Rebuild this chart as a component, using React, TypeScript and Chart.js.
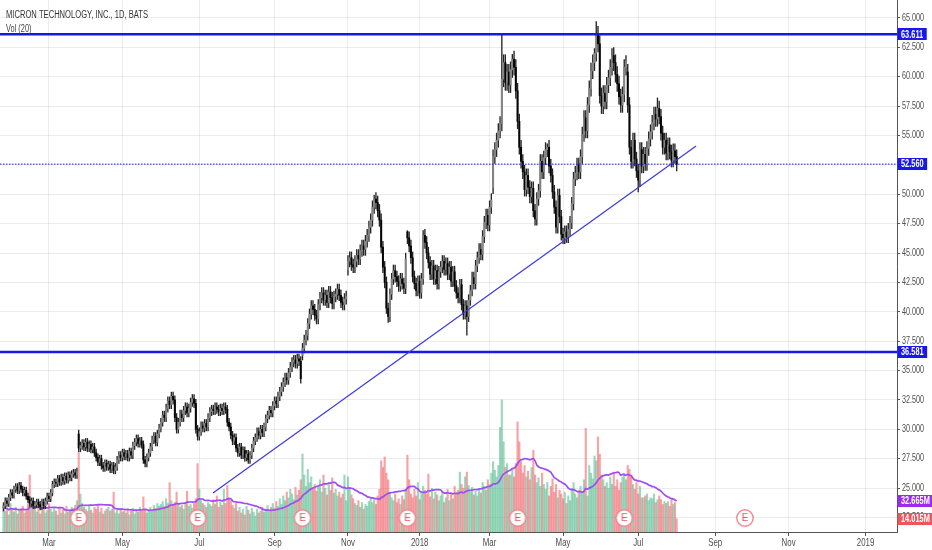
import React, { useEffect, useRef } from "react";
import { Chart, registerables } from "chart.js";

Chart.register(...registerables);

// ---------------- data ----------------
// bar index 0 = 1 Mar 2017 (daily trading bars)
const FIRST_BAR = -26;
const firstOpen = 23.3;

const closes: number[] = [
  23.5, 23.9, 23.7, 24.2, 24.6, 24.4, 24.9, 25.1, 24.8, 25.2,
  24.9, 24.6, 24.8, 24.3, 24.0, 23.7, 23.9, 23.5, 23.6, 23.8,
  23.6, 23.4, 23.8, 23.5, 23.9, 24.3, 24.1, 24.6, 25.3, 25.5,
  25.4, 25.8, 25.5, 25.9, 25.6, 26.0, 25.7, 26.1, 25.9, 26.2,
  26.3, 26.1, 26.4, 28.4, 28.6, 28.8, 28.5, 28.9, 28.4, 28.7,
  28.3, 28.5, 28.0, 27.6, 27.2, 27.5, 26.9, 26.7, 27.1, 26.8,
  27.0, 26.6, 26.9, 26.5, 26.8, 27.4, 27.8, 27.6, 28.0, 27.7,
  27.9, 27.6, 28.1, 27.8, 28.6, 28.9, 29.2, 28.8, 29.0, 28.7,
  27.4, 27.1, 27.6, 28.0, 28.5, 29.1, 29.4, 28.9, 29.6, 30.1,
  30.6, 31.2, 31.0, 31.8, 32.4, 32.1, 32.8, 32.5, 31.0, 30.0,
  30.6, 31.3, 31.0, 31.6, 31.9, 31.4, 31.8, 32.3, 32.6, 32.2,
  30.0, 29.4, 29.8, 30.3, 30.1, 30.5, 30.2, 31.0, 31.5, 31.7,
  31.6, 31.9, 31.7, 31.5, 31.8, 31.6, 31.9, 31.7, 30.6, 30.2,
  29.5, 29.0, 29.3, 28.4, 28.0, 28.5, 27.8, 28.2, 27.6, 27.9,
  27.4, 27.8, 28.4, 29.0, 29.3, 29.8, 29.5, 30.0, 29.7, 30.2,
  30.9, 31.2, 31.6, 31.4, 32.0, 32.4, 32.2, 32.8, 33.2, 33.6,
  34.0, 34.4, 34.2, 34.8, 35.3, 35.7, 35.9, 35.6, 36.0, 35.8,
  34.3, 36.9, 37.6, 38.0, 39.0, 39.8, 40.5, 40.2, 39.7, 39.4,
  40.6, 41.2, 41.6, 41.0, 41.4, 40.8, 41.7, 41.2, 40.7, 41.3,
  41.5, 41.9, 41.4, 40.8, 40.6, 41.1, 41.3, 44.3, 44.6, 44.0,
  43.8, 44.3, 44.8, 44.5, 45.2, 45.6, 45.3, 46.0, 46.5, 47.2,
  47.8, 48.9, 49.6, 49.3, 48.6, 47.8, 45.5, 43.8, 42.5, 40.3,
  39.6, 41.5, 42.8, 43.5, 43.0, 42.6, 42.2, 42.8, 42.4, 42.0,
  44.5, 46.3, 45.6, 44.6, 43.0, 42.4, 41.8, 42.6, 41.6, 42.8,
  46.5, 45.9, 45.0, 44.2, 43.2, 43.9, 42.8, 43.5, 42.4, 43.4,
  43.8, 44.3, 43.6, 44.1, 43.2, 43.8, 42.6, 43.4, 42.2, 41.6,
  41.2, 42.3, 40.6, 39.8, 40.5, 39.6, 41.0, 41.8, 42.9, 42.4,
  43.9, 44.6, 45.3, 44.9, 46.4, 47.6, 48.2, 47.4, 48.9, 49.5,
  53.2, 53.8, 54.6, 55.4, 56.0, 59.8, 61.2, 59.5, 60.4, 59.3,
  60.6, 61.5, 60.8, 58.8, 56.2, 54.0, 52.8, 51.9, 50.4, 51.6,
  50.6, 49.8, 50.5, 48.6, 47.9, 49.6, 50.3, 52.8, 51.9, 53.1,
  53.8, 54.0, 52.4, 51.6, 50.2, 48.9, 47.2, 49.9, 48.1, 46.6,
  46.3, 46.8, 46.4, 47.0, 47.6, 49.2, 51.3, 51.8, 52.5, 51.9,
  53.2, 55.1, 56.5, 55.4, 57.6, 59.0, 60.5, 61.2, 62.0, 63.6,
  62.8, 58.4, 57.5, 58.6, 57.9, 59.3, 59.9, 60.8, 61.8, 61.2,
  60.2, 59.4, 58.3, 57.6, 58.5, 60.8, 61.3, 57.6, 54.0, 52.8,
  54.6, 53.0, 52.0, 51.2, 53.8, 52.4, 53.4, 52.6, 53.9, 54.7,
  55.3, 56.1, 56.8, 56.4, 57.3, 56.6, 55.2, 54.0, 54.6, 53.5,
  54.2, 53.6, 52.9, 53.7, 53.2, 52.56,
];

// volume in millions
const volumes: number[] = [
  28, 22, 25, 18, 30, 24, 21, 26, 19, 23,
  24, 27, 20, 22, 29, 60, 31, 26, 24, 21,
  25, 19, 22, 27, 20, 23, 30, 24, 21, 26,
  22, 18, 25, 20, 24, 19, 27, 21, 23, 26,
  25, 28, 33, 84, 40, 30, 26, 24, 22, 27,
  23, 20, 26, 24, 28, 21, 25, 19, 22, 24,
  26, 22, 24, 42, 20, 23, 19, 24, 21, 22,
  20, 24, 18, 22, 25, 19, 23, 21, 26, 22,
  37, 24, 20, 23, 26, 22, 28, 25, 30, 27,
  29, 32, 27, 35, 30, 52, 33, 28, 31, 42,
  30, 26, 28, 24, 31, 43, 27, 29, 25, 30,
  35, 72, 45, 33, 30, 28, 26, 31, 29, 27,
  34, 29, 38, 26, 32, 28, 45, 30, 49, 36,
  33, 28, 25, 30, 22, 26, 20, 24, 18, 27,
  23, 19, 25, 21, 17, 24, 20, 22, 26, 21,
  24, 28, 22, 26, 30, 25, 32, 27, 35, 29,
  38, 33, 42, 36, 45, 40, 34, 47, 39, 44,
  55, 82, 60, 48, 66, 52, 58, 45, 50, 43,
  48, 55, 42, 60, 46, 39, 52, 44, 57, 41,
  45, 38, 42, 36, 40, 60, 33, 58, 47, 39,
  35, 30, 28, 33, 26, 31, 24, 29, 27, 32,
  36, 31, 34, 29, 38, 45, 75, 68, 79, 62,
  55, 42, 36, 33, 40, 31, 35, 29, 38, 34,
  45, 81, 55, 40, 36, 45, 38, 52, 34, 42,
  48, 44, 40, 61, 37, 46, 35, 42, 39, 33,
  38, 42, 31, 36, 45, 33, 40, 35, 48, 41,
  44, 63, 50, 46, 58, 63, 49, 42, 47, 39,
  43, 38, 46, 41, 52, 48, 44, 55, 50, 62,
  74, 65, 58, 70, 110, 139, 95, 68, 72, 60,
  60, 66, 58, 72, 116, 95, 74, 62, 70, 58,
  64, 55, 68, 86, 60, 52, 57, 48, 62, 50,
  45, 52, 38, 48, 56, 42, 50, 36, 44, 40,
  35, 42, 30, 38, 33, 46, 52, 40, 36, 44,
  48, 42, 55, 109, 38, 70, 62, 56, 80, 75,
  100, 82, 60, 55, 48, 52, 46, 58, 50, 62,
  48, 55, 44, 52, 58, 62, 55, 70, 66, 60,
  50, 45, 52, 40, 48, 36, 36, 38, 40, 33,
  36, 35, 40, 31, 34, 38, 34, 29, 32, 30,
  32, 27, 34, 29, 31, 14.015,
];

const gapOpens: Record<number, number> = { 17: 29.6, 145: 36.3, 171: 43.6, 205: 46.8, 254: 50.6, 331: 60.4 };
const wickHighs: Record<number, number> = {
  186: 49.9, 205: 46.9, 214: 46.9, 259: 63.6, 265: 61.9, 285: 54.3,
  312: 62.4, 313: 64.7, 322: 62.4, 330: 61.8, 348: 58.2,
};
const wickLows: Record<number, number> = { 194: 39.1, 239: 38.0, 337: 50.2 };

const earningsBars = [17, 85, 145, 205, 268, 329, 398];
const monthTickBars = [0, 42, 86, 129, 171, 212, 252, 294, 337, 381, 423, 467];
const monthTickLabels = ["Mar", "May", "Jul", "Sep", "Nov", "2018", "Mar", "May", "Jul", "Sep", "Nov", "2019"];
const priceTicks = [22.5, 25, 27.5, 30, 32.5, 35, 37.5, 40, 42.5, 45, 47.5, 50, 52.5, 55, 57.5, 60, 62.5, 65];

const resistanceLevel = 63.611;
const supportLevel = 36.581;
const lastPrice = 52.56;
const trendLine = [
  { x: 93.8, y: 24.57 },
  { x: 370.1, y: 54.1 },
];
const volMaLabel = 32.665;
const lastVolLabel = 14.015;
const titleText = "MICRON TECHNOLOGY, INC., 1D, BATS";
const volText = "Vol (20)";

// ---------------- layout / style ----------------
const X_MIN = -28;
const X_MAX = 485;
const Y_MIN = 21.26;
const Y_MAX = 66.53;
const VOL_MAX = 560;
const E_Y = 14.7;
const WICK_FRACTION = 0.011; // default wick length, as a share of price
const FONT = '"Liberation Sans", Arial, sans-serif';
const GRID = "rgba(0,0,0,0.075)";
const LEVEL_BLUE = "#1717ee";
const MA_PURPLE = "#a04cf0";

function drawText(
  ctx: CanvasRenderingContext2D,
  text: string,
  x: number,
  y: number,
  align: "left" | "center",
  color: string,
  font: string,
  sx: number
) {
  ctx.save();
  ctx.font = font;
  ctx.fillStyle = color;
  ctx.textBaseline = "middle";
  ctx.textAlign = "left";
  const w = ctx.measureText(text).width * sx;
  const x0 = align === "center" ? x - w / 2 : x;
  ctx.translate(x0, y);
  ctx.scale(sx, 1);
  ctx.fillText(text, 0, 0);
  ctx.restore();
}

function drawBox(ctx: CanvasRenderingContext2D, text: string, left: number, y: number, bg: string) {
  ctx.save();
  const font = `bold 10px ${FONT}`;
  ctx.font = font;
  const sx = 0.74;
  const w = ctx.measureText(text).width * sx + 7;
  ctx.fillStyle = bg;
  ctx.fillRect(left, Math.round(y) - 6, w, 12);
  ctx.restore();
  drawText(ctx, text, left + 3.5, y + 0.5, "left", "#ffffff", font, sx);
}

const overlayPlugin = {
  id: "overlay",
  afterDraw(chart: any) {
    const ctx: CanvasRenderingContext2D = chart.ctx;
    const xs = chart.scales.x;
    const ys = chart.scales.y;
    const yv = chart.scales.yv;
    const tickFont = `10px ${FONT}`;
    priceTicks.forEach((v) => {
      drawText(ctx, v.toFixed(3), ys.left + 5, ys.getPixelForValue(v), "left", "#4d4d4d", tickFont, 0.72);
    });
    monthTickBars.forEach((b, k) => {
      drawText(ctx, monthTickLabels[k], xs.getPixelForValue(b), xs.top + 11.5, "center", "#4d4d4d", `10.5px ${FONT}`, 0.75);
    });
    drawText(ctx, titleText, 6, 15.5, "left", "#333333", `10px ${FONT}`, 0.76);
    drawText(ctx, volText, 6, 29.5, "left", "#444444", `10px ${FONT}`, 0.74);

    const bl = ys.left + 0.5;
    drawBox(ctx, resistanceLevel.toFixed(3), bl, ys.getPixelForValue(resistanceLevel), LEVEL_BLUE);
    drawBox(ctx, lastPrice.toFixed(3), bl, ys.getPixelForValue(lastPrice), LEVEL_BLUE);
    drawBox(ctx, supportLevel.toFixed(3), bl, ys.getPixelForValue(supportLevel), LEVEL_BLUE);
    drawBox(ctx, volMaLabel.toFixed(3) + "M", bl, yv.getPixelForValue(volMaLabel), "#9a2cf0");
    drawBox(ctx, lastVolLabel.toFixed(3) + "M", bl, yv.getPixelForValue(lastVolLabel), "#ee5561");
  },
};

function makeEarningsIcon(): HTMLCanvasElement {
  const c = document.createElement("canvas");
  c.width = 20;
  c.height = 20;
  const g = c.getContext("2d")!;
  g.beginPath();
  g.arc(10, 10, 8.2, 0, Math.PI * 2);
  g.fillStyle = "#ffffff";
  g.fill();
  g.lineWidth = 1.5;
  g.strokeStyle = "#ec8a90";
  g.stroke();
  g.fillStyle = "#e2525d";
  g.font = `10px ${FONT}`;
  g.textAlign = "center";
  g.textBaseline = "middle";
  g.fillText("E", 10, 10.5);
  return c;
}

export default function App() {
  const ref = useRef<HTMLCanvasElement>(null);

  useEffect(() => {
    const canvas = ref.current;
    if (!canvas) return;

    const bars = closes.map((_, k) => FIRST_BAR + k);
    const opens = closes.map((_, k) =>
      gapOpens[bars[k]] !== undefined ? gapOpens[bars[k]] : k === 0 ? firstOpen : closes[k - 1]
    );
    const highs = closes.map((c, k) =>
      wickHighs[bars[k]] !== undefined ? wickHighs[bars[k]] : Math.max(opens[k], c) * (1 + WICK_FRACTION)
    );
    const lows = closes.map((c, k) =>
      wickLows[bars[k]] !== undefined ? wickLows[bars[k]] : Math.min(opens[k], c) * (1 - WICK_FRACTION)
    );
    const rising = closes.map((c, k) => c >= opens[k]);
    const volMa = volumes.map((_, k) => {
      const s = volumes.slice(Math.max(0, k - 19), k + 1);
      return s.reduce((a, b) => a + b, 0) / s.length;
    });

    const eIcon = makeEarningsIcon();

    const chart = new Chart(canvas, {
      type: "bar",
      data: {
        datasets: [
          {
            type: "bar",
            label: "volume",
            yAxisID: "yv",
            data: bars.map((b, k) => ({ x: b, y: volumes[k] })),
            backgroundColor: rising.map((r) => (r ? "rgba(60,178,125,0.5)" : "rgba(240,80,90,0.52)")),
            barThickness: 1.5,
            grouped: false,
            order: 10,
          },
          {
            type: "line",
            label: "vol ma",
            yAxisID: "yv",
            data: bars.map((b, k) => ({ x: b, y: volMa[k] })),
            borderColor: MA_PURPLE,
            borderWidth: 1.7,
            pointRadius: 0,
            tension: 0.2,
            order: 9,
          },
          {
            type: "bar",
            label: "wicks",
            yAxisID: "y",
            data: bars.map((b, k) => ({ x: b, y: [lows[k], highs[k]] })),
            backgroundColor: "#262626",
            barThickness: 0.7,
            grouped: false,
            order: 6,
          },
          {
            type: "bar",
            label: "bodies",
            yAxisID: "y",
            data: bars.map((b, k) => ({
              x: b,
              y: [Math.min(opens[k], closes[k]), Math.max(opens[k], closes[k])],
            })),
            backgroundColor: rising.map((r) => (r ? "#858585" : "#050505")),
            barThickness: 1.35,
            minBarLength: 1,
            grouped: false,
            order: 5,
          },
          {
            type: "line",
            label: "resistance",
            yAxisID: "y",
            data: [
              { x: X_MIN, y: resistanceLevel },
              { x: X_MAX, y: resistanceLevel },
            ],
            borderColor: LEVEL_BLUE,
            borderWidth: 2.6,
            pointRadius: 0,
            order: 2,
          },
          {
            type: "line",
            label: "support",
            yAxisID: "y",
            data: [
              { x: X_MIN, y: supportLevel },
              { x: X_MAX, y: supportLevel },
            ],
            borderColor: LEVEL_BLUE,
            borderWidth: 2.6,
            pointRadius: 0,
            order: 2,
          },
          {
            type: "line",
            label: "last",
            yAxisID: "y",
            data: [
              { x: X_MIN, y: lastPrice },
              { x: X_MAX, y: lastPrice },
            ],
            borderColor: LEVEL_BLUE,
            borderWidth: 1,
            borderDash: [1.5, 1.5],
            pointRadius: 0,
            order: 2,
          },
          {
            type: "line",
            label: "trend",
            yAxisID: "y",
            data: trendLine,
            borderColor: "#3a3ae0",
            borderWidth: 1.2,
            pointRadius: 0,
            order: 1,
          },
          {
            type: "scatter",
            label: "earnings",
            yAxisID: "yv",
            data: earningsBars.map((b) => ({ x: b, y: E_Y })),
            pointStyle: eIcon,
            pointRadius: 10,
            order: 0,
          },
        ],
      },
      options: {
        animation: false,
        responsive: false,
        maintainAspectRatio: false,
        events: [],
        layout: { padding: 0, autoPadding: false },
        plugins: { legend: { display: false }, tooltip: { enabled: false } },
        scales: {
          x: {
            type: "linear",
            min: X_MIN,
            max: X_MAX,
            offset: false,
            afterBuildTicks: (s: any) => {
              s.ticks = monthTickBars.map((v) => ({ value: v }));
            },
            afterFit: (s: any) => {
              s.height = 18;
            },
            ticks: { display: false },
            grid: { color: GRID, offset: false, drawTicks: true, tickLength: 4, tickColor: "#555" },
            border: { display: true, color: "#555" },
          },
          y: {
            type: "linear",
            position: "right",
            min: Y_MIN,
            max: Y_MAX,
            afterBuildTicks: (s: any) => {
              s.ticks = priceTicks.map((v) => ({ value: v }));
            },
            afterFit: (s: any) => {
              s.width = 35;
            },
            ticks: { display: false },
            grid: { color: GRID, drawTicks: true, tickLength: 3, tickColor: "#555" },
            border: { display: true, color: "#555" },
          },
          yv: {
            type: "linear",
            display: false,
            min: 0,
            max: VOL_MAX,
          },
        },
      },
      plugins: [overlayPlugin],
    } as any);

    return () => chart.destroy();
  }, []);

  return (
    <div style={{ position: "absolute", left: 0, top: 0, width: 932, height: 550, background: "#ffffff" }}>
      <canvas ref={ref} width={932} height={550} style={{ display: "block" }} />
    </div>
  );
}
